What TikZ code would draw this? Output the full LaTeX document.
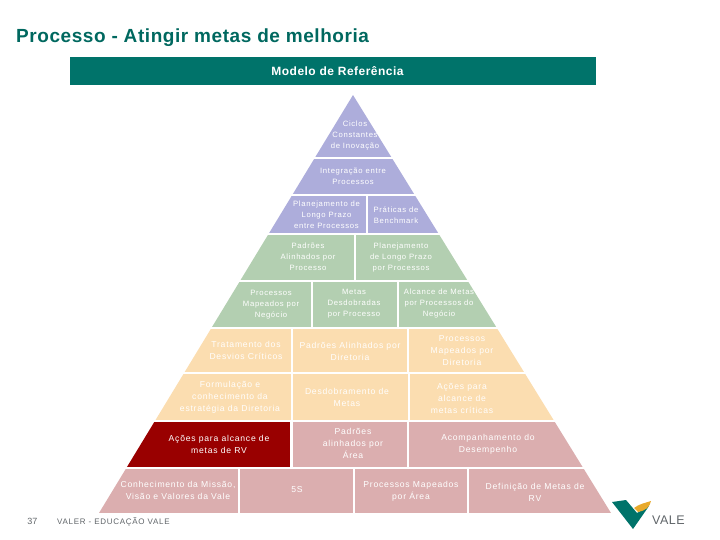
\documentclass[tikz,border=0pt]{standalone}
\usepackage{fontspec}
\setmainfont{Liberation Sans}
\newfontfamily\cellfont[LetterSpace=9]{Liberation Sans}
\newfontfamily\titlefont[LetterSpace=3]{Liberation Sans}
\newfontfamily\bannerfont[LetterSpace=4]{Liberation Sans}
\usetikzlibrary{positioning}
\definecolor{lila}{HTML}{ADADDB}
\definecolor{verde}{HTML}{B3CFB1}
\definecolor{creme}{HTML}{FBDDB0}
\definecolor{rosa}{HTML}{DBAEAF}
\definecolor{vermelho}{HTML}{990000}
\definecolor{petroleo}{HTML}{00736A}
\definecolor{ouro}{HTML}{E8A92B}
\definecolor{cinza}{HTML}{5F6468}
\tikzset{
  txt/.style={align=center,text=white,font=\cellfont\fontsize{8.6}{12}\selectfont,inner sep=0pt},
  txtalto/.style={txt,font=\cellfont\fontsize{7.7}{11}\selectfont},
  txtmed/.style={txt,text=white!97!creme},
}
\begin{document}
\begin{tikzpicture}[x=1pt,y=-1pt]
  \useasboundingbox (0,0) rectangle (720,540);
  \node[anchor=west,inner sep=0pt,font=\titlefont\bfseries\fontsize{19}{21}\selectfont,text=petroleo!90!black] (titulo) at (16,38) {Processo - Atingir metas de melhoria};
  \fill[petroleo] (70,57) rectangle (596,85);
  \node[inner sep=0pt,text=white,font=\bannerfont\bfseries\fontsize{12}{14}\selectfont] (modelo) at (337.5,71) {Modelo de Referência};
  % piramide
  \begin{scope}
    \clip (353,95)--(99,513)--(611,513)--cycle;
    \fill[lila] (90,95) rectangle (620,157);
    \fill[lila] (90,159) rectangle (620,194);
    \fill[lila] (90,196) rectangle (366,233);  \fill[lila] (368,196) rectangle (620,233);
    \fill[verde] (90,235) rectangle (354,280);  \fill[verde] (356,235) rectangle (620,280);
    \fill[verde] (90,282) rectangle (311,327);  \fill[verde] (313,282) rectangle (397,327);  \fill[verde] (399,282) rectangle (620,327);
    \fill[creme] (90,329) rectangle (291,372);  \fill[creme] (293,329) rectangle (407,372);  \fill[creme] (409,329) rectangle (620,372);
    \fill[creme] (90,374) rectangle (291,420);  \fill[creme] (293,374) rectangle (408,420);  \fill[creme] (410,374) rectangle (620,420);
    \fill[vermelho] (90,422) rectangle (290,467);  \fill[rosa] (293,422) rectangle (407,467);  \fill[rosa] (409,422) rectangle (620,467);
    \fill[rosa] (90,469) rectangle (238,513);  \fill[rosa] (240,469) rectangle (353,513);  \fill[rosa] (355,469) rectangle (467,513);  \fill[rosa] (469,469) rectangle (620,513);
  \end{scope}
  \node[txtalto] (ciclos) at (355,136) {Ciclos\\Constantes\\de Inovação};
  \node[txtalto] (integracao) at (353,176.5) {Integração entre\\Processos};
  \node[txtalto] (plongo) at (326.5,214.5) {Planejamento de\\Longo Prazo\\entre Processos};
  \node[txtalto] (praticas) at (396,215) {Práticas de\\Benchmark};
  \node[txtalto] (padroes) at (308,257) {Padrões\\Alinhados por\\Processo};
  \node[txtalto] (plprocessos) at (401,258) {Planejamento\\de Longo Prazo\\por Processos};
  \node[txtalto] (mapnegocio) at (271,305) {Processos\\Mapeados por\\Negócio};
  \node[txtalto] (metas) at (354,304) {Metas\\Desdobradas\\por Processo};
  \node[txtalto] (alcance) at (439,304) {Alcance de Metas\\por Processos do\\Negócio};
  \node[txtmed] (tratamento) at (246,350.5) {Tratamento dos\\Desvios Críticos};
  \node[txtmed] (padiretoria) at (350,351) {Padrões Alinhados por\\Diretoria};
  \node[txtmed] (mapdiretoria) at (462,351) {Processos\\Mapeados por\\Diretoria};
  \node[txtmed] (formulacao) at (230,397) {Formulação e\\conhecimento da\\estratégia da Diretoria};
  \node[txtmed] (desdobra) at (347,397) {Desdobramento de\\Metas};
  \node[txtmed] (acoes) at (462,398) {Ações para\\alcance de\\metas críticas};
  \node[txt] (acoesrv) at (219,444) {Ações para alcance de\\metas de RV};
  \node[txt] (alinhados) at (353,443.5) {Padrões\\alinhados por\\Área};
  \node[txt] (acompanha) at (488,444) {Acompanhamento do\\Desempenho};
  \node[txt] (missao) at (178,490) {Conhecimento da Missão,\\Visão e Valores da Vale};
  \node[txt] (cincos) at (297,490) {5S};
  \node[txt] (mapearea) at (411,491) {Processos Mapeados\\por Área};
  \node[txt] (definicao) at (535,492) {Definição de Metas de\\RV};
  % rodape
  \node[inner sep=0pt,text=cinza,font=\fontsize{9}{10}\selectfont] (pagina) at (32.5,521.5) {37};
  \node[anchor=west,inner sep=0pt,text=cinza,font=\cellfont\fontsize{8}{10}\selectfont] (rodape) at (57,521.5) {VALER - EDUCAÇÃO VALE};
  % logo
  \fill[petroleo] (612,502)--(626,500)--(637,513)--(649,506)--(633,529)--cycle;
  \fill[ouro] (634,508) .. controls (639,504) and (645,503) .. (651,501) .. controls (650,507) and (645,511) .. (638,512)--cycle;
  \node[anchor=west,inner sep=0pt,text=cinza,font=\bannerfont\fontsize{12.5}{13}\selectfont] (vale) at (652,520) {VALE};
\end{tikzpicture}
\end{document}
